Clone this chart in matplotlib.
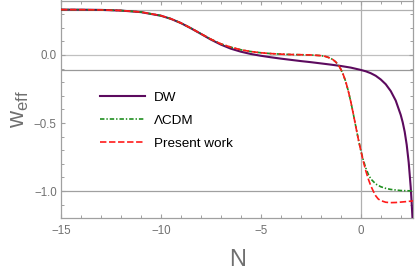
import matplotlib
matplotlib.use("Agg")
import matplotlib.pyplot as plt
from matplotlib.ticker import MultipleLocator, FixedLocator

# ---------------- data ----------------
N_dw = [-15, -14, -13, -12, -11, -10, -9.5, -9, -8.5, -8, -7.5, -7, -6.5, -6, -5.5, -5,
        -4.5, -4, -3.5, -3, -2.5, -2, -1.5, -1, -0.5, 0, 0.25, 0.5, 0.75, 1, 1.25, 1.5,
        1.75, 2, 2.1, 2.2, 2.3, 2.4, 2.5, 2.55, 2.6]
w_dw = [0.333, 0.3325, 0.331, 0.326, 0.3145, 0.288, 0.265, 0.234, 0.196, 0.155, 0.113,
        0.076, 0.046, 0.024, 0.007, -0.006, -0.017, -0.027, -0.036, -0.045, -0.053,
        -0.062, -0.071, -0.081, -0.093, -0.11, -0.12, -0.134, -0.153, -0.18, -0.215,
        -0.265, -0.335, -0.44, -0.495, -0.565, -0.66, -0.79, -0.97, -1.09, -1.23]

N_lcdm = [-15, -14, -13, -12, -11, -10, -9.5, -9, -8.5, -8, -7.5, -7, -6.5, -6, -5.5, -5,
          -4.5, -4, -3.5, -3, -2.5, -2, -1.75, -1.5, -1.375, -1.25, -1.125, -1, -0.875,
          -0.75, -0.625, -0.5, -0.375, -0.25, -0.125, 0, 0.125, 0.25, 0.375, 0.5, 0.75,
          1, 1.25, 1.5, 2, 2.63]
w_lcdm = [0.333, 0.3324, 0.3308, 0.3265, 0.3154, 0.2888, 0.2658, 0.2349, 0.1971, 0.1558,
          0.1158, 0.0814, 0.057, 0.038, 0.025, 0.016, 0.010, 0.006, 0.0032, 0.0017,
          -0.0001, -0.005, -0.0115, -0.0249, -0.0363, -0.0517, -0.0735, -0.104, -0.1446,
          -0.197, -0.2636, -0.342, -0.431, -0.524, -0.616, -0.70, -0.77, -0.83, -0.875,
          -0.91, -0.948, -0.968, -0.98, -0.988, -0.996, -0.999]

N_pw = [-15, -14, -13, -12, -11, -10, -9.5, -9, -8.5, -8, -7.5, -7, -6.5, -6, -5.5, -5,
        -4.5, -4, -3.5, -3, -2.5, -2, -1.75, -1.5, -1.375, -1.25, -1.125, -1, -0.875,
        -0.75, -0.625, -0.5, -0.375, -0.25, -0.125, 0, 0.125, 0.25, 0.375, 0.5, 0.625,
        0.75, 0.875, 1, 1.25, 1.5, 1.75, 2, 2.3, 2.63]
w_pw = [0.333, 0.3324, 0.3308, 0.3265, 0.3154, 0.2888, 0.2658, 0.2349, 0.1971, 0.1558,
        0.1158, 0.0814, 0.057, 0.038, 0.025, 0.016, 0.010, 0.006, 0.0032, 0.0017,
        -0.0001, -0.005, -0.0115, -0.0249, -0.0363, -0.0517, -0.0735, -0.104, -0.1446,
        -0.197, -0.2636, -0.342, -0.431, -0.524, -0.616, -0.70, -0.78, -0.85, -0.91,
        -0.96, -1.0, -1.035, -1.058, -1.07, -1.082, -1.085, -1.084, -1.081, -1.077, -1.072]

hlines = [1/3, 0.0, -0.11, -1.0]
hline_colors = ["#b0b0b0", "#c0c0c0", "#999999", "#a0a0a0"]
vlines = [0.0]

labels = ["DW", "ΛCDM", "Present work"]

# ---------------- style ----------------
plt.rcParams['font.family'] = ['Liberation Sans', 'DejaVu Sans']
plt.rcParams['mathtext.fontset'] = 'custom'
plt.rcParams['mathtext.rm'] = 'Liberation Sans'
plt.rcParams['lines.scale_dashes'] = False

fig = plt.figure(figsize=(4.16, 2.73), dpi=100)
ax = fig.add_axes([61/416, 1 - 218.3/273, (413.3 - 61)/416, (218.3 - 0.5)/273])

for y, c in zip(hlines, hline_colors):
    ax.axhline(y, color=c, lw=0.9, zorder=1)
for x in vlines:
    ax.axvline(x, color="#b0b0b0", lw=0.9, zorder=1)

ax.plot(N_dw, w_dw, color="#5c0a5e", lw=1.5, label=labels[0], zorder=3)
ax.plot(N_lcdm, w_lcdm, color="#1f8f1f", lw=1.2, dashes=(3.2, 1.4, 1.0, 1.4),
        label=labels[1], zorder=4)
ax.plot(N_pw, w_pw, color="#ff1a1a", lw=1.2, dashes=(4.6, 1.9),
        label=labels[2], zorder=5)

ax.set_xlim(-15, 2.63)
ax.set_ylim(-1.2, 0.4)

ax.xaxis.set_major_locator(FixedLocator([-15, -10, -5, 0]))
ax.xaxis.set_minor_locator(MultipleLocator(1))
ax.yaxis.set_major_locator(FixedLocator([-1.0, -0.5, 0.0]))
ax.yaxis.set_minor_locator(MultipleLocator(0.1))
ax.set_xticklabels(["−15", "−10", "−5", "0"])
ax.set_yticklabels(["−1.0", "−0.5", "0.0"])

framec = "#a0a0a0"
for s in ax.spines.values():
    s.set_color(framec)
    s.set_linewidth(0.9)
ax.tick_params(which='both', direction='in', top=True, right=True, color=framec,
               labelcolor="#707070", labelsize=8.3)
ax.tick_params(which='major', length=3.2, width=0.8)
ax.tick_params(which='minor', length=1.9, width=0.7)
ax.tick_params(axis='x', which='major', pad=5.0)
ax.tick_params(axis='y', which='major', pad=3.0)

ax.set_xlabel("N", fontsize=17, color="#707070", labelpad=8.5)
ax.set_ylabel(r"$\mathrm{w}_{\mathrm{eff}}$", fontsize=17, color="#707070", labelpad=2)

leg = ax.legend(loc='upper left', bbox_to_anchor=(0.111, 0.582), frameon=False,
                fontsize=9.7, handlelength=3.3, handletextpad=0.7, labelspacing=0.78,
                borderpad=0, borderaxespad=0)

fig.savefig("out.png", dpi=100)
